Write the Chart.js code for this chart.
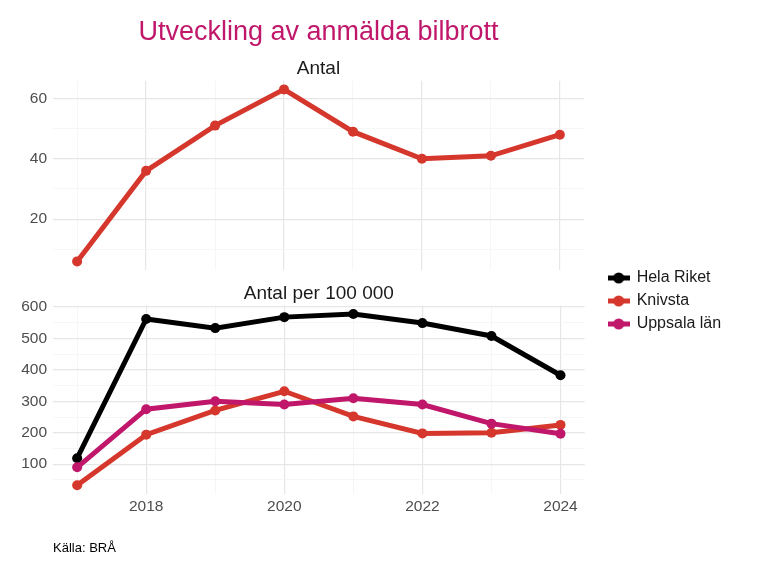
<!DOCTYPE html>
<html>
<head>
<meta charset="utf-8">
<script src="https://cdn.jsdelivr.net/npm/chart.js@4.4.1/dist/chart.umd.min.js"></script>
<style>
  html, body { margin: 0; padding: 0; background: #ffffff; }
  #wrap { position: relative; width: 768px; height: 576px; overflow: hidden; background: #fff; }
  canvas { position: absolute; left: 0; }
  #c1 { top: 0; }
  #c2 { top: 263px; }
</style>
</head>
<body>
<div id="wrap">
  <canvas id="c1" width="768" height="275"></canvas>
  <canvas id="c2" width="768" height="313"></canvas>
</div>
<script>
// ---- data ----
const years = [2017, 2018, 2019, 2020, 2021, 2022, 2023, 2024];
const knivstaAntal = [6, 36, 51, 63, 49, 40, 41, 48];
const helaRiketPer100k = [119, 562, 533, 568, 578, 549, 508, 383];
const knivstaPer100k = [33, 194, 271, 332, 252, 198, 200, 225];
const uppsalaPer100k = [90, 275, 300, 290, 310, 290, 229, 197];

const seriesNames = ['Hela Riket', 'Knivsta', 'Uppsala län'];
const seriesColors = ['#000000', '#d5372d', '#c0176b'];

const xTickLabels = [2018, 2020, 2022, 2024];
const xMinorTicks = [2017, 2019, 2021, 2023];
const yTicksAntal = [20, 40, 60];
const yMinorAntal = [10, 30, 50];
const yTicksPer = [100, 200, 300, 400, 500, 600];
const yMinorPer = [50, 150, 250, 350, 450, 550];

const mainTitle = 'Utveckling av anmälda bilbrott';
const panel1Title = 'Antal';
const panel2Title = 'Antal per 100 000';
const caption = 'Källa: BRÅ';

// ---- styling ----
Chart.defaults.font.family = "'Liberation Sans', Arial, sans-serif";
Chart.defaults.animation = false;
const axisText = '#4d4d4d';
const majorGrid = '#e6e6e6';
const minorGrid = '#f2f2f2';

function pts(vals) { return years.map((y, i) => ({ x: y, y: vals[i] })); }

function ds(label, vals, color, order) {
  return {
    label: label,
    data: pts(vals),
    borderColor: color,
    backgroundColor: color,
    borderWidth: 5,
    pointRadius: 5,
    pointHoverRadius: 5,
    pointBorderWidth: 0,
    tension: 0,
    order: order
  };
}

function gridOpts(majors) {
  return {
    drawTicks: false,
    color: (c) => (c.tick && majors.includes(c.tick.value)) ? majorGrid : minorGrid,
    lineWidth: (c) => (c.tick && majors.includes(c.tick.value)) ? 1.2 : 0.7
  };
}

function xScale(showLabels, fixedHeight) {
  return {
    type: 'linear',
    min: 2016.65,
    max: 2024.35,
    border: { display: false },
    grid: gridOpts(xTickLabels),
    afterBuildTicks: (s) => { s.ticks = xMinorTicks.concat(xTickLabels).sort().map(v => ({ value: v })); },
    afterFit: (s) => { s.height = fixedHeight; s.paddingLeft = 0; s.paddingRight = 0; },
    ticks: {
      display: showLabels,
      autoSkip: false,
      maxRotation: 0,
      padding: 4,
      color: axisText,
      font: { size: 15.5 },
      callback: (v) => xTickLabels.includes(v) ? String(v) : ''
    }
  };
}

function yScale(min, max, majors, minors) {
  return {
    type: 'linear',
    min: min,
    max: max,
    border: { display: false },
    grid: gridOpts(majors),
    afterBuildTicks: (s) => { s.ticks = minors.concat(majors).sort((a, b) => a - b).map(v => ({ value: v })); },
    afterFit: (s) => { s.width = 53; s.paddingTop = 0; s.paddingBottom = 0; },
    ticks: {
      autoSkip: false,
      padding: 6,
      color: axisText,
      font: { size: 15.5 },
      callback: (v) => majors.includes(v) ? String(v) : ''
    }
  };
}

function markerImage(color) {
  const c = document.createElement('canvas');
  c.width = 22; c.height = 12;
  const g = c.getContext('2d');
  g.strokeStyle = color; g.lineWidth = 5;
  g.beginPath(); g.moveTo(0, 6); g.lineTo(22, 6); g.stroke();
  g.fillStyle = color;
  g.beginPath(); g.arc(11, 6, 5.5, 0, Math.PI * 2); g.fill();
  return c;
}

// ---- top panel ----
new Chart(document.getElementById('c1'), {
  type: 'line',
  data: { datasets: [ds('Knivsta', knivstaAntal, seriesColors[1], 1)] },
  options: {
    responsive: false,
    layout: { padding: { left: 0, right: 184, top: 0, bottom: 0 } },
    scales: {
      x: xScale(false, 0),
      y: yScale(3.15, 65.85, yTicksAntal, yMinorAntal)
    },
    plugins: {
      legend: { display: false },
      tooltip: { enabled: false },
      title: {
        display: true, text: mainTitle, color: '#c0176b', fullSize: false,
        font: { size: 27, weight: 'normal' }, padding: { top: 16, bottom: 9.4 }
      },
      subtitle: {
        display: true, text: panel1Title, color: '#1a1a1a', fullSize: false,
        font: { size: 19, weight: 'normal' }, padding: { top: 0, bottom: 0.2 }
      }
    }
  }
});

// ---- bottom panel ----
new Chart(document.getElementById('c2'), {
  type: 'line',
  data: {
    datasets: [
      ds(seriesNames[0], helaRiketPer100k, seriesColors[0], 3),
      ds(seriesNames[1], knivstaPer100k, seriesColors[1], 2),
      ds(seriesNames[2], uppsalaPer100k, seriesColors[2], 1)
    ]
  },
  options: {
    responsive: false,
    layout: { padding: { left: 0, right: 46, top: 0, bottom: 0 } },
    scales: {
      x: xScale(true, 22.6),
      y: yScale(6, 605, yTicksPer, yMinorPer),
      gap: {
        type: 'linear', position: 'right', display: true,
        grid: { display: false }, border: { display: false },
        ticks: { display: false },
        afterFit: (s) => { s.width = 17; s.paddingTop = 0; s.paddingBottom = 0; }
      }
    },
    plugins: {
      tooltip: { enabled: false },
      legend: {
        display: true,
        position: 'right',
        align: 'start',
        onClick: null,
        labels: {
          usePointStyle: true,
          pointStyleWidth: 20,
          padding: 7,
          color: '#1a1a1a',
          font: { size: 16 },
          generateLabels: () => seriesNames.map((n, i) => ({
            text: n,
            pointStyle: markerImage(seriesColors[i]),
            fillStyle: seriesColors[i],
            strokeStyle: seriesColors[i],
            lineWidth: 0,
            hidden: false,
            datasetIndex: i,
            fontColor: '#1a1a1a'
          }))
        }
      },
      subtitle: {
        display: true, text: panel2Title, color: '#1a1a1a', fullSize: false, position: 'top',
        font: { size: 19, weight: 'normal' }, padding: { top: 19.6, bottom: 0.1 }
      },
      title: {
        display: true, text: caption, color: '#000000', fullSize: false, position: 'bottom', align: 'start',
        font: { size: 13, weight: 'normal' }, padding: { top: 23.9, bottom: 20.2 }
      }
    }
  }
});
</script>
</body>
</html>
